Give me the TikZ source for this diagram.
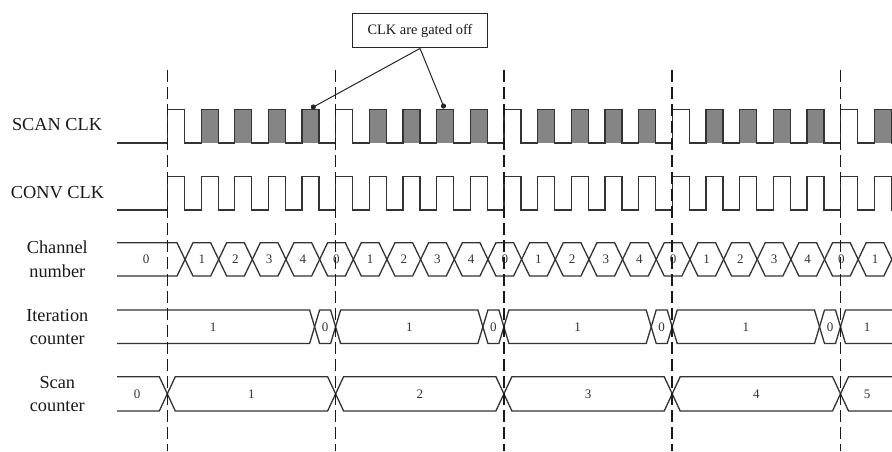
\documentclass[tikz,border=0pt]{standalone}
\usepackage{fontspec}
\setmainfont{Liberation Serif}
\tikzset{
  sig/.style={draw=black!80,line width=1.3pt,line join=miter},
  pulsefill/.style={fill=black!48},
  vlab/.style={font=\fontsize{13}{15}\selectfont,inner sep=0pt,text=black!80},
  siglab/.style={font=\fontsize{18.3}{23.7}\selectfont,align=center,inner sep=0pt,text=black!90},
  guide/.style={draw=black!90,line width=1.6pt,dash pattern=on 12pt off 5pt},
  calloutbox/.style={draw=black!85,line width=1pt,minimum width=134.6pt,minimum height=34.5pt,
    font=\fontsize{14.4}{16}\selectfont,inner sep=0pt,text=black!90},
  pointer/.style={draw=black!85,line width=1pt},
}
\begin{document}
\begin{tikzpicture}[x=1pt,y=-1pt]
\useasboundingbox[fill=white] (0,0) rectangle (892,451);
% signal names
\node[siglab] (lscan) at (57,125) {SCAN CLK};
\node[siglab] (lconv) at (57.5,193) {CONV CLK};
\node[siglab] (lchan) at (57.3,259.5) {Channel\\number};
\node[siglab] (liter) at (57.3,327) {Iteration\\counter};
\node[siglab] (lscnt) at (57.3,394) {Scan\\counter};
% SCAN CLK gated (grey) pulses
\foreach \j in {1,...,21}{
  \pgfmathtruncatemacro\m{mod(\j,5)}
  \ifnum\m>0
    \fill[pulsefill] ({167.5+33.66*\j},109.5) rectangle ({184.5+33.66*\j},143);
  \fi
}
% SCAN CLK
\draw[sig] (117,143) foreach \j in {0,...,21}{
  -- ({167.5+33.66*\j},143) -- ({167.5+33.66*\j},109.5)
  -- ({184.5+33.66*\j},109.5) -- ({184.5+33.66*\j},143)} -- (892,143);
% CONV CLK
\draw[sig] (117,210) foreach \j in {0,...,21}{
  -- ({167.5+33.66*\j},210) -- ({167.5+33.66*\j},176.5)
  -- ({184.5+33.66*\j},176.5) -- ({184.5+33.66*\j},210)} -- (892,210);
% Channel number bus
\draw[sig] (117,242.7) -- (177,242.7) -- (185,259.4) -- (177,276) -- (117,276);
\node[vlab] (ch0) at (146,259.4) {0};
\foreach \j in {0,...,20}{
  \pgfmathsetmacro\a{185+33.66*\j}
  \pgfmathsetmacro\b{\a+33.66}
  \pgfmathtruncatemacro\v{mod(\j+1,5)}
  \draw[sig] (\a,259.4) -- (\a+8,242.7) -- (\b-8,242.7) -- (\b,259.4) -- (\b-8,276) -- (\a+8,276) -- cycle;
  \node[vlab] (chv\j) at ({\a+16.83},259.4) {\v};
}
% Iteration counter bus
\draw[sig] (117,310) -- (309.6,310) -- (314.6,326.8) -- (309.6,343.5) -- (117,343.5);
\node[vlab] (it0) at (213,326.8) {1};
\foreach \k in {0,...,3}{
  \pgfmathsetmacro\a{314.6+168.3*\k}
  \pgfmathsetmacro\b{335.6+168.3*\k}
  \draw[sig] (\a,326.8) -- (\a+5,310) -- (\b-5,310) -- (\b,326.8) -- (\b-5,343.5) -- (\a+5,343.5) -- cycle;
  \node[vlab] (itz\k) at ({(\a+\b)/2},326.8) {0};
}
\foreach \k in {0,...,2}{
  \pgfmathsetmacro\a{335.6+168.3*\k}
  \pgfmathsetmacro\b{482.9+168.3*\k}
  \draw[sig] (\a,326.8) -- (\a+5,310) -- (\b-5,310) -- (\b,326.8) -- (\b-5,343.5) -- (\a+5,343.5) -- cycle;
  \node[vlab] (ito\k) at ({(\a+\b)/2},326.8) {1};
}
\draw[sig] (892,310) -- (845.5,310) -- (840.5,326.8) -- (845.5,343.5) -- (892,343.5);
\node[vlab] (itl) at (867,326.8) {1};
% Scan counter bus
\draw[sig] (117,376.7) -- (159.3,376.7) -- (167.3,393.8) -- (159.3,411) -- (117,411);
\node[vlab] (sc0) at (137,393.8) {0};
\foreach \k in {0,...,3}{
  \pgfmathsetmacro\a{167.3+168.3*\k}
  \pgfmathsetmacro\b{\a+168.3}
  \pgfmathtruncatemacro\v{\k+1}
  \draw[sig] (\a,393.8) -- (\a+8,376.7) -- (\b-8,376.7) -- (\b,393.8) -- (\b-8,411) -- (\a+8,411) -- cycle;
  \node[vlab] (scv\k) at ({(\a+\b)/2},393.8) {\v};
}
\draw[sig] (892,376.7) -- (848.5,376.7) -- (840.5,393.8) -- (848.5,411) -- (892,411);
\node[vlab] (sc5) at (867,393.8) {5};
% guide lines (on top)
\foreach \k in {0,...,4}{
  \draw[guide] ({167.3+168.3*\k},70) -- ({167.3+168.3*\k},451);
}
% callout
\node[calloutbox] (callout) at (420,30.7) {CLK are gated off};
\coordinate (g1) at (313.3,107);
\coordinate (g2) at (443.5,106);
\fill[black!85] (g1) circle (2.6);
\fill[black!85] (g2) circle (2.6);
\draw[pointer] (callout.south) -- (g1);
\draw[pointer] (callout.south) -- (g2);
\end{tikzpicture}
\end{document}
